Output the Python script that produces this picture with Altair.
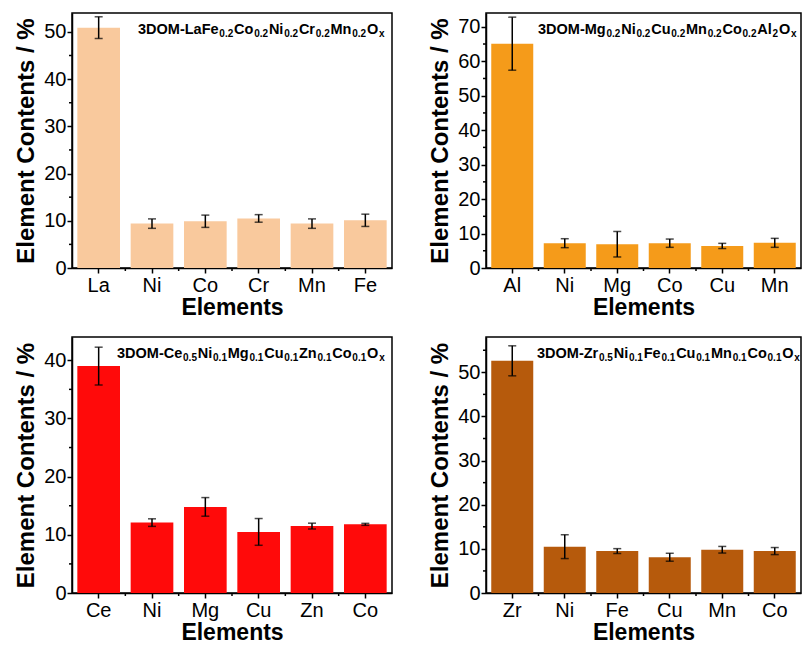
import altair as alt
import pandas as pd

FONT = "Liberation Sans"

# Panel (a): 3DOM-LaFe0.2Co0.2Ni0.2Cr0.2Mn0.2Ox
la_elements = ["La", "Ni", "Co", "Cr", "Mn", "Fe"]
la_values = [50.9, 9.4, 9.9, 10.5, 9.4, 10.1]
la_errors = [2.3, 1.0, 1.3, 0.8, 1.0, 1.3]
la_formula = ["3DOM-LaFe", "0.2", "Co", "0.2", "Ni", "0.2", "Cr", "0.2", "Mn", "0.2", "O", "x"]

# Panel (b): 3DOM-Mg0.2Ni0.2Cu0.2Mn0.2Co0.2Al2Ox
al_elements = ["Al", "Ni", "Mg", "Co", "Cu", "Mn"]
al_values = [65.1, 7.2, 6.9, 7.2, 6.4, 7.3]
al_errors = [7.7, 1.3, 3.7, 1.2, 0.75, 1.3]
al_formula = ["3DOM-Mg", "0.2", "Ni", "0.2", "Cu", "0.2", "Mn", "0.2", "Co", "0.2", "Al", "2", "O", "x"]

# Panel (c): 3DOM-Ce0.5Ni0.1Mg0.1Cu0.1Zn0.1Co0.1Ox
ce_elements = ["Ce", "Ni", "Mg", "Cu", "Zn", "Co"]
ce_values = [39.0, 12.1, 14.8, 10.5, 11.5, 11.8]
ce_errors = [3.25, 0.65, 1.6, 2.3, 0.5, 0.17]
ce_formula = ["3DOM-Ce", "0.5", "Ni", "0.1", "Mg", "0.1", "Cu", "0.1", "Zn", "0.1", "Co", "0.1", "O", "x"]

# Panel (d): 3DOM-Zr0.5Ni0.1Fe0.1Cu0.1Mn0.1Co0.1Ox
zr_elements = ["Zr", "Ni", "Fe", "Cu", "Mn", "Co"]
zr_values = [52.6, 10.5, 9.5, 8.1, 9.8, 9.5]
zr_errors = [3.4, 2.7, 0.55, 0.9, 0.75, 0.8]
zr_formula = ["3DOM-Zr", "0.5", "Ni", "0.1", "Fe", "0.1", "Cu", "0.1", "Mn", "0.1", "Co", "0.1", "O", "x"]

# Arial/Liberation Sans Bold advance widths (per 1000 em) for laying out the formula
BOLD_W = {
    "0": 556, "1": 556, "2": 556, "5": 556, "3": 556, ".": 278, "-": 333,
    "x": 556, "O": 778, "D": 722, "M": 833, "L": 611, "a": 556, "F": 611,
    "e": 556, "C": 722, "o": 611, "N": 722, "i": 278, "r": 389, "n": 611,
    "g": 611, "u": 611, "A": 722, "l": 278, "Z": 611,
}

MAIN_SIZE = 14.5
SUB_SIZE = 10
SEG_GAP = 0.8
PAD_INNER = 0.2
PAD_OUTER = 0.1


def text_width(s, size):
    return sum(BOLD_W.get(c, 556) for c in s) / 1000.0 * size


def formula_layers(segments, x0, y0):
    layers = []
    x = x0
    for i, seg in enumerate(segments):
        sub = i % 2 == 1
        size = SUB_SIZE if sub else MAIN_SIZE
        y = y0 + (2.5 if sub else 0)
        layers.append(
            alt.Chart(pd.DataFrame({"t": [seg]}))
            .mark_text(align="left", baseline="alphabetic", font=FONT,
                       fontWeight="bold", fontSize=size, color="black")
            .encode(text="t:N", x=alt.value(x), y=alt.value(y))
        )
        x += text_width(seg, size) + SEG_GAP
    return layers


def panel(elements, values, errors, formula, color, ymax, width, height, fx0):
    df = pd.DataFrame({"element": elements, "value": values, "err": errors})
    df["lo"] = df["value"] - df["err"]
    df["hi"] = df["value"] + df["err"]

    major = list(range(0, int(ymax) + 1, 10))
    minor = pd.DataFrame({"m": list(range(5, int(ymax) + 1, 10))})

    x_scale = alt.Scale(paddingInner=PAD_INNER, paddingOuter=PAD_OUTER)
    x_enc = alt.X(
        "element:N", sort=elements, title="Elements", scale=x_scale,
        axis=alt.Axis(labelAngle=0, titleFontSize=23, titlePadding=1),
    )
    y_scale = alt.Scale(domain=[0, ymax], nice=False, zero=True)
    y_axis = alt.Axis(values=major, tickCount=len(major) + 2, labelOverlap=False,
                      labelFlush=False, title="Element Contents / %")

    base = alt.Chart(df)
    bars = base.mark_bar(color=color).encode(
        x=x_enc, y=alt.Y("value:Q", scale=y_scale, axis=y_axis)
    )
    whisker = base.mark_rule(color="black", strokeWidth=1.5).encode(
        x=alt.X("element:N", sort=elements), y="lo:Q", y2="hi:Q"
    )
    cap_lo = base.mark_tick(color="black", thickness=1.5, size=8).encode(
        x=alt.X("element:N", sort=elements), y="lo:Q"
    )
    cap_hi = base.mark_tick(color="black", thickness=1.5, size=8).encode(
        x=alt.X("element:N", sort=elements), y="hi:Q"
    )
    # minor ticks: halfway between labelled y ticks, and between categories on x
    minor_y = alt.Chart(minor).mark_rule(color="black", strokeWidth=1.5).encode(
        y="m:Q", x=alt.value(0), x2=alt.value(-3)
    )
    step = width / (len(elements) - PAD_INNER + 2 * PAD_OUTER)
    minor_x = (
        alt.Chart(df.iloc[:-1])
        .mark_rule(color="black", strokeWidth=1.5, xOffset=PAD_INNER * step / 2)
        .encode(
            x=alt.X("element:N", sort=elements, bandPosition=1),
            y=alt.value(height), y2=alt.value(height + 3),
        )
    )
    layers = [bars, whisker, cap_lo, cap_hi, minor_y, minor_x] + formula_layers(formula, fx0, 21)
    return alt.layer(*layers).properties(width=width, height=height)


p1 = panel(la_elements, la_values, la_errors, la_formula, "#F9C99D", 54, 320, 255, 66)
p2 = panel(al_elements, al_values, al_errors, al_formula, "#F59B1A", 74, 315, 255, 52)
p3 = panel(ce_elements, ce_values, ce_errors, ce_formula, "#FF0A0A", 44, 320, 256, 45)
p4 = panel(zr_elements, zr_values, zr_errors, zr_formula, "#B65A0C", 58, 315, 256, 51)

chart = (
    alt.vconcat(
        alt.hconcat(p1, p2, spacing=35),
        alt.hconcat(p3, p4, spacing=35),
        spacing=16,
    )
    .properties(padding={"left": 14, "top": 12, "right": 0, "bottom": 0})
    .configure_view(stroke="black", strokeWidth=1.5)
    .configure_axis(
        grid=False,
        domainColor="black",
        domainWidth=1.5,
        tickColor="black",
        tickWidth=1.5,
        tickSize=5,
        labelFont=FONT,
        labelFontSize=20,
        labelColor="black",
        labelPadding=2,
        titleFont=FONT,
        titleFontSize=24,
        titleFontWeight="bold",
        titleColor="black",
        titlePadding=3,
    )
    .configure_axisY(labelPadding=1, titlePadding=5)
)

chart.save("out.html", embed_options={"renderer": "svg", "actions": False})
